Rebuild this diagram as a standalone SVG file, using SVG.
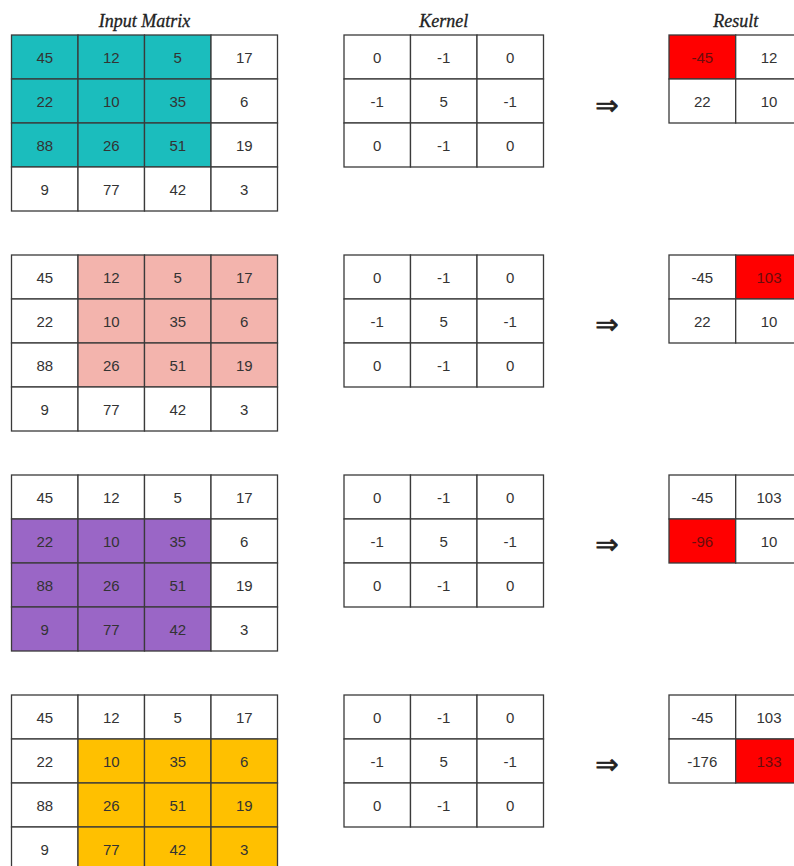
<svg xmlns="http://www.w3.org/2000/svg" width="794" height="866" viewBox="0 0 794 866">
<style>
rect{stroke:#3a3a3a;stroke-width:1.3}
.w{fill:#ffffff}
.h1{fill:#1bbdbd}
.h2{fill:#f3b4ad}
.h3{fill:#9a66c6}
.h4{fill:#ffc000}
.r{fill:#ff0000}
text{font-family:"Liberation Sans",Arial,sans-serif;font-size:15px;fill:#333333;text-anchor:middle}
.rt{fill:#6a0c0c}
.title{font-family:"Liberation Serif","Times New Roman",serif;font-style:italic;font-size:18px;fill:#222222;stroke:#222222;stroke-width:0.3}
.arr{font-family:"DejaVu Sans",sans-serif;font-size:28px;fill:#222222;stroke:#222222;stroke-width:0.6}
</style>
<rect x="0" y="0" width="794" height="866" fill="#ffffff" style="stroke:none"/>
<text class="title" x="144.5" y="27">Input Matrix</text>
<text class="title" x="443.75" y="27">Kernel</text>
<text class="title" x="735.7" y="27">Result</text>

<!-- Block 1 -->
<g id="input-1">
<rect class="h1" x="11.5" y="35" width="66.5" height="44"/><rect class="h1" x="78" y="35" width="66.5" height="44"/><rect class="h1" x="144.5" y="35" width="66.5" height="44"/><rect class="w" x="211" y="35" width="66.5" height="44"/>
<rect class="h1" x="11.5" y="79" width="66.5" height="44"/><rect class="h1" x="78" y="79" width="66.5" height="44"/><rect class="h1" x="144.5" y="79" width="66.5" height="44"/><rect class="w" x="211" y="79" width="66.5" height="44"/>
<rect class="h1" x="11.5" y="123" width="66.5" height="44"/><rect class="h1" x="78" y="123" width="66.5" height="44"/><rect class="h1" x="144.5" y="123" width="66.5" height="44"/><rect class="w" x="211" y="123" width="66.5" height="44"/>
<rect class="w" x="11.5" y="167" width="66.5" height="44"/><rect class="w" x="78" y="167" width="66.5" height="44"/><rect class="w" x="144.5" y="167" width="66.5" height="44"/><rect class="w" x="211" y="167" width="66.5" height="44"/>
<text x="44.75" y="63">45</text><text x="111.25" y="63">12</text><text x="177.75" y="63">5</text><text x="244.25" y="63">17</text>
<text x="44.75" y="107">22</text><text x="111.25" y="107">10</text><text x="177.75" y="107">35</text><text x="244.25" y="107">6</text>
<text x="44.75" y="151">88</text><text x="111.25" y="151">26</text><text x="177.75" y="151">51</text><text x="244.25" y="151">19</text>
<text x="44.75" y="195">9</text><text x="111.25" y="195">77</text><text x="177.75" y="195">42</text><text x="244.25" y="195">3</text>
</g>
<g id="kernel-1">
<rect class="w" x="344" y="35" width="66.5" height="44"/><rect class="w" x="410.5" y="35" width="66.5" height="44"/><rect class="w" x="477" y="35" width="66.5" height="44"/>
<rect class="w" x="344" y="79" width="66.5" height="44"/><rect class="w" x="410.5" y="79" width="66.5" height="44"/><rect class="w" x="477" y="79" width="66.5" height="44"/>
<rect class="w" x="344" y="123" width="66.5" height="44"/><rect class="w" x="410.5" y="123" width="66.5" height="44"/><rect class="w" x="477" y="123" width="66.5" height="44"/>
<text x="377.25" y="63">0</text><text x="443.75" y="63">-1</text><text x="510.25" y="63">0</text>
<text x="377.25" y="107">-1</text><text x="443.75" y="107">5</text><text x="510.25" y="107">-1</text>
<text x="377.25" y="151">0</text><text x="443.75" y="151">-1</text><text x="510.25" y="151">0</text>
</g>
<g id="result-1">
<rect class="r" x="669" y="35" width="66.7" height="44"/><rect class="w" x="735.7" y="35" width="66.7" height="44"/>
<rect class="w" x="669" y="79" width="66.7" height="44"/><rect class="w" x="735.7" y="79" width="66.7" height="44"/>
<text class="rt" x="702.3" y="63">-45</text><text x="769" y="63">12</text>
<text x="702.3" y="107">22</text><text x="769" y="107">10</text>
</g>

<!-- Block 2 -->
<g id="input-2">
<rect class="w" x="11.5" y="255" width="66.5" height="44"/><rect class="h2" x="78" y="255" width="66.5" height="44"/><rect class="h2" x="144.5" y="255" width="66.5" height="44"/><rect class="h2" x="211" y="255" width="66.5" height="44"/>
<rect class="w" x="11.5" y="299" width="66.5" height="44"/><rect class="h2" x="78" y="299" width="66.5" height="44"/><rect class="h2" x="144.5" y="299" width="66.5" height="44"/><rect class="h2" x="211" y="299" width="66.5" height="44"/>
<rect class="w" x="11.5" y="343" width="66.5" height="44"/><rect class="h2" x="78" y="343" width="66.5" height="44"/><rect class="h2" x="144.5" y="343" width="66.5" height="44"/><rect class="h2" x="211" y="343" width="66.5" height="44"/>
<rect class="w" x="11.5" y="387" width="66.5" height="44"/><rect class="w" x="78" y="387" width="66.5" height="44"/><rect class="w" x="144.5" y="387" width="66.5" height="44"/><rect class="w" x="211" y="387" width="66.5" height="44"/>
<text x="44.75" y="283">45</text><text x="111.25" y="283">12</text><text x="177.75" y="283">5</text><text x="244.25" y="283">17</text>
<text x="44.75" y="327">22</text><text x="111.25" y="327">10</text><text x="177.75" y="327">35</text><text x="244.25" y="327">6</text>
<text x="44.75" y="371">88</text><text x="111.25" y="371">26</text><text x="177.75" y="371">51</text><text x="244.25" y="371">19</text>
<text x="44.75" y="415">9</text><text x="111.25" y="415">77</text><text x="177.75" y="415">42</text><text x="244.25" y="415">3</text>
</g>
<g id="kernel-2">
<rect class="w" x="344" y="255" width="66.5" height="44"/><rect class="w" x="410.5" y="255" width="66.5" height="44"/><rect class="w" x="477" y="255" width="66.5" height="44"/>
<rect class="w" x="344" y="299" width="66.5" height="44"/><rect class="w" x="410.5" y="299" width="66.5" height="44"/><rect class="w" x="477" y="299" width="66.5" height="44"/>
<rect class="w" x="344" y="343" width="66.5" height="44"/><rect class="w" x="410.5" y="343" width="66.5" height="44"/><rect class="w" x="477" y="343" width="66.5" height="44"/>
<text x="377.25" y="283">0</text><text x="443.75" y="283">-1</text><text x="510.25" y="283">0</text>
<text x="377.25" y="327">-1</text><text x="443.75" y="327">5</text><text x="510.25" y="327">-1</text>
<text x="377.25" y="371">0</text><text x="443.75" y="371">-1</text><text x="510.25" y="371">0</text>
</g>
<g id="result-2">
<rect class="w" x="669" y="255" width="66.7" height="44"/><rect class="r" x="735.7" y="255" width="66.7" height="44"/>
<rect class="w" x="669" y="299" width="66.7" height="44"/><rect class="w" x="735.7" y="299" width="66.7" height="44"/>
<text x="702.3" y="283">-45</text><text class="rt" x="769" y="283">103</text>
<text x="702.3" y="327">22</text><text x="769" y="327">10</text>
</g>

<!-- Block 3 -->
<g id="input-3">
<rect class="w" x="11.5" y="475" width="66.5" height="44"/><rect class="w" x="78" y="475" width="66.5" height="44"/><rect class="w" x="144.5" y="475" width="66.5" height="44"/><rect class="w" x="211" y="475" width="66.5" height="44"/>
<rect class="h3" x="11.5" y="519" width="66.5" height="44"/><rect class="h3" x="78" y="519" width="66.5" height="44"/><rect class="h3" x="144.5" y="519" width="66.5" height="44"/><rect class="w" x="211" y="519" width="66.5" height="44"/>
<rect class="h3" x="11.5" y="563" width="66.5" height="44"/><rect class="h3" x="78" y="563" width="66.5" height="44"/><rect class="h3" x="144.5" y="563" width="66.5" height="44"/><rect class="w" x="211" y="563" width="66.5" height="44"/>
<rect class="h3" x="11.5" y="607" width="66.5" height="44"/><rect class="h3" x="78" y="607" width="66.5" height="44"/><rect class="h3" x="144.5" y="607" width="66.5" height="44"/><rect class="w" x="211" y="607" width="66.5" height="44"/>
<text x="44.75" y="503">45</text><text x="111.25" y="503">12</text><text x="177.75" y="503">5</text><text x="244.25" y="503">17</text>
<text x="44.75" y="547">22</text><text x="111.25" y="547">10</text><text x="177.75" y="547">35</text><text x="244.25" y="547">6</text>
<text x="44.75" y="591">88</text><text x="111.25" y="591">26</text><text x="177.75" y="591">51</text><text x="244.25" y="591">19</text>
<text x="44.75" y="635">9</text><text x="111.25" y="635">77</text><text x="177.75" y="635">42</text><text x="244.25" y="635">3</text>
</g>
<g id="kernel-3">
<rect class="w" x="344" y="475" width="66.5" height="44"/><rect class="w" x="410.5" y="475" width="66.5" height="44"/><rect class="w" x="477" y="475" width="66.5" height="44"/>
<rect class="w" x="344" y="519" width="66.5" height="44"/><rect class="w" x="410.5" y="519" width="66.5" height="44"/><rect class="w" x="477" y="519" width="66.5" height="44"/>
<rect class="w" x="344" y="563" width="66.5" height="44"/><rect class="w" x="410.5" y="563" width="66.5" height="44"/><rect class="w" x="477" y="563" width="66.5" height="44"/>
<text x="377.25" y="503">0</text><text x="443.75" y="503">-1</text><text x="510.25" y="503">0</text>
<text x="377.25" y="547">-1</text><text x="443.75" y="547">5</text><text x="510.25" y="547">-1</text>
<text x="377.25" y="591">0</text><text x="443.75" y="591">-1</text><text x="510.25" y="591">0</text>
</g>
<g id="result-3">
<rect class="w" x="669" y="475" width="66.7" height="44"/><rect class="w" x="735.7" y="475" width="66.7" height="44"/>
<rect class="r" x="669" y="519" width="66.7" height="44"/><rect class="w" x="735.7" y="519" width="66.7" height="44"/>
<text x="702.3" y="503">-45</text><text x="769" y="503">103</text>
<text class="rt" x="702.3" y="547">-96</text><text x="769" y="547">10</text>
</g>

<!-- Block 4 -->
<g id="input-4">
<rect class="w" x="11.5" y="695" width="66.5" height="44"/><rect class="w" x="78" y="695" width="66.5" height="44"/><rect class="w" x="144.5" y="695" width="66.5" height="44"/><rect class="w" x="211" y="695" width="66.5" height="44"/>
<rect class="w" x="11.5" y="739" width="66.5" height="44"/><rect class="h4" x="78" y="739" width="66.5" height="44"/><rect class="h4" x="144.5" y="739" width="66.5" height="44"/><rect class="h4" x="211" y="739" width="66.5" height="44"/>
<rect class="w" x="11.5" y="783" width="66.5" height="44"/><rect class="h4" x="78" y="783" width="66.5" height="44"/><rect class="h4" x="144.5" y="783" width="66.5" height="44"/><rect class="h4" x="211" y="783" width="66.5" height="44"/>
<rect class="w" x="11.5" y="827" width="66.5" height="44"/><rect class="h4" x="78" y="827" width="66.5" height="44"/><rect class="h4" x="144.5" y="827" width="66.5" height="44"/><rect class="h4" x="211" y="827" width="66.5" height="44"/>
<text x="44.75" y="723">45</text><text x="111.25" y="723">12</text><text x="177.75" y="723">5</text><text x="244.25" y="723">17</text>
<text x="44.75" y="767">22</text><text x="111.25" y="767">10</text><text x="177.75" y="767">35</text><text x="244.25" y="767">6</text>
<text x="44.75" y="811">88</text><text x="111.25" y="811">26</text><text x="177.75" y="811">51</text><text x="244.25" y="811">19</text>
<text x="44.75" y="855">9</text><text x="111.25" y="855">77</text><text x="177.75" y="855">42</text><text x="244.25" y="855">3</text>
</g>
<g id="kernel-4">
<rect class="w" x="344" y="695" width="66.5" height="44"/><rect class="w" x="410.5" y="695" width="66.5" height="44"/><rect class="w" x="477" y="695" width="66.5" height="44"/>
<rect class="w" x="344" y="739" width="66.5" height="44"/><rect class="w" x="410.5" y="739" width="66.5" height="44"/><rect class="w" x="477" y="739" width="66.5" height="44"/>
<rect class="w" x="344" y="783" width="66.5" height="44"/><rect class="w" x="410.5" y="783" width="66.5" height="44"/><rect class="w" x="477" y="783" width="66.5" height="44"/>
<text x="377.25" y="723">0</text><text x="443.75" y="723">-1</text><text x="510.25" y="723">0</text>
<text x="377.25" y="767">-1</text><text x="443.75" y="767">5</text><text x="510.25" y="767">-1</text>
<text x="377.25" y="811">0</text><text x="443.75" y="811">-1</text><text x="510.25" y="811">0</text>
</g>
<g id="result-4">
<rect class="w" x="669" y="695" width="66.7" height="44"/><rect class="w" x="735.7" y="695" width="66.7" height="44"/>
<rect class="w" x="669" y="739" width="66.7" height="44"/><rect class="r" x="735.7" y="739" width="66.7" height="44"/>
<text x="702.3" y="723">-45</text><text x="769" y="723">103</text>
<text x="702.3" y="767">-176</text><text class="rt" x="769" y="767">133</text>
</g>

<g id="connectors">
<text class="arr" x="607" y="115">⇒</text>
<text class="arr" x="607" y="334">⇒</text>
<text class="arr" x="607" y="554">⇒</text>
<text class="arr" x="607" y="774">⇒</text>
</g>
</svg>
